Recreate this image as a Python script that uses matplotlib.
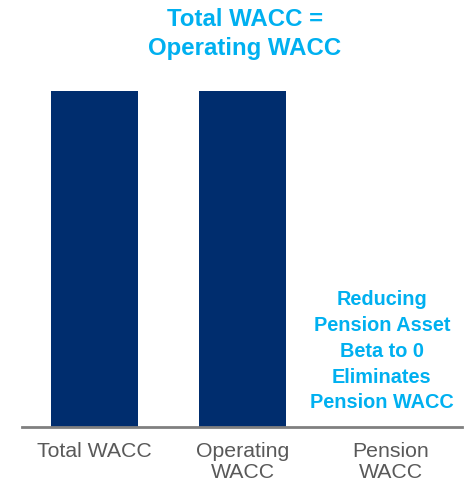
import matplotlib.pyplot as plt

categories = ["Total WACC", "Operating\nWACC", "Pension\nWACC"]
wacc = [1.0, 1.0, 0.0]

navy = "#002d6e"
cyan = "#00b0f0"
grey = "#595959"

plt.rcParams['font.family'] = ['Liberation Sans', 'DejaVu Sans']

fig = plt.figure(figsize=(4.66, 4.87), dpi=100)
ax = fig.add_axes([0.047, 0.123, 0.944, 0.69])

ax.bar(range(len(categories)), wacc, width=0.59, color=navy)
ax.set_xlim(-0.49, 2.48)
ax.set_ylim(0, 1.0)

ax.set_xticks(range(len(categories)))
ax.set_xticklabels(categories, fontsize=15.3, color=grey, linespacing=1.12)
ax.tick_params(axis='x', length=0, pad=11)
ax.set_yticks([])

for side in ["top", "right", "left"]:
    ax.spines[side].set_visible(False)
ax.spines["bottom"].set_color("#808080")
ax.spines["bottom"].set_linewidth(2)

fig.text(0.526, 0.93, "Total WACC =\nOperating WACC", ha="center", va="center",
         fontsize=17.3, fontweight="bold", color=cyan, linespacing=1.3)

ax.text(1.94, 0.225, "Reducing\nPension Asset\nBeta to 0\nEliminates\nPension WACC",
        ha="center", va="center", fontsize=14.3, fontweight="bold", color=cyan,
        linespacing=1.45)

fig.savefig("out.png", dpi=100)
